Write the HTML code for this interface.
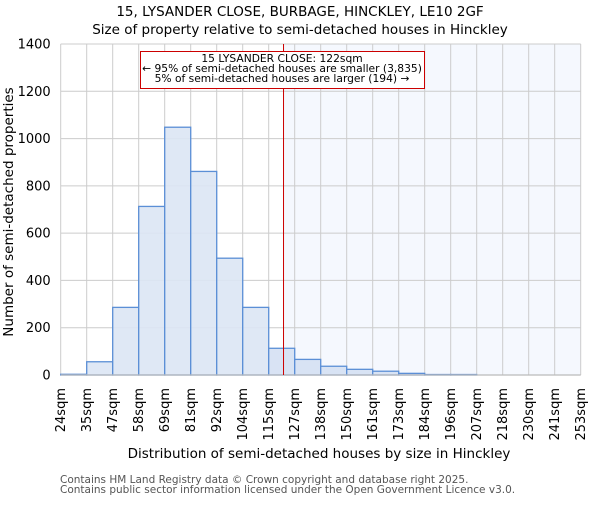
<!DOCTYPE html>
<html><head><meta charset="utf-8"><style>
body{margin:0;background:#fff}
svg text{font-family:"DejaVu Sans","Liberation Sans",sans-serif}
</style></head><body>
<svg id="c" width="600" height="500" xmlns="http://www.w3.org/2000/svg">
<text x="300" y="16" text-anchor="middle" font-size="13.5">15, LYSANDER CLOSE, BURBAGE, HINCKLEY, LE10 2GF</text>
<text x="300" y="34" text-anchor="middle" font-size="13.5">Size of property relative to semi-detached houses in Hinckley</text>
<g id="plot"></g>
<text x="319" y="458" text-anchor="middle" font-size="13.5">Distribution of semi-detached houses by size in Hinckley</text>
<text transform="translate(13,212) rotate(-90)" text-anchor="middle" font-size="13.5">Number of semi-detached properties</text>
<text x="60" y="483" font-size="10.5" fill="#555">Contains HM Land Registry data © Crown copyright and database right 2025.</text>
<text x="60" y="493" font-size="10.5" fill="#555">Contains public sector information licensed under the Open Government Licence v3.0.</text>
</svg>
<script>
const binLabels=["24sqm","35sqm","47sqm","58sqm","69sqm","81sqm","92sqm","104sqm","115sqm","127sqm","138sqm","150sqm","161sqm","173sqm","184sqm","196sqm","207sqm","218sqm","230sqm","241sqm","253sqm"];
const counts=[3,56,286,713,1048,861,494,286,113,66,37,24,16,7,2,2,0,0,0,0];
const yTicks=[0,200,400,600,800,1000,1200,1400];
const markerIndex=8.57;
const NS="http://www.w3.org/2000/svg";
const L=60.7,R=580.7,T=44,B=375,yMax=1400;
const xs=i=>L+(R-L)*i/counts.length;
const ys=v=>B-(B-T)*v/yMax;
const g=document.getElementById('plot');
function mk(t,a){const e=document.createElementNS(NS,t);for(const k in a)e.setAttribute(k,a[k]);g.appendChild(e);return e;}
let e;
e=mk('rect',{x:xs(markerIndex),y:T,width:R-xs(markerIndex),height:B-T,fill:'#f5f8fe'});


for(let i=0;i<binLabels.length;i++){
 e=mk('line',{x1:xs(i),x2:xs(i),y1:T,y2:B,stroke:'#ccc','stroke-width':1});
 
 
 e=mk('text',{transform:`translate(${xs(i)+4.5},${388}) rotate(-90)`,'text-anchor':'end','font-size':13});
 e.textContent=binLabels[i];
 
 
}
yTicks.forEach(v=>{
 e=mk('line',{x1:L,x2:R,y1:ys(v),y2:ys(v),stroke:'#ccc','stroke-width':1});
 
 
 e=mk('text',{x:L-10,y:ys(v)+4.5,'text-anchor':'end','font-size':13});
 e.textContent=v;
 
 
});
counts.forEach((c,i)=>{
 if(c<=0)return;
 e=mk('rect',{x:xs(i),y:ys(c),width:xs(i+1)-xs(i),height:B-ys(c),fill:i+1>markerIndex?'#d5e0f3':'#dce6f4',stroke:'#5b8fd6','stroke-width':1.3,'fill-opacity':0.9});
 
 
});
e=mk('line',{x1:L,x2:R,y1:B,y2:B,stroke:'#bbb','stroke-width':1.2});


e=mk('line',{x1:xs(markerIndex),x2:xs(markerIndex),y1:T,y2:B,stroke:'#c00','stroke-width':1});


e=mk('rect',{x:140.5,y:51.5,width:284,height:37,fill:'#fff',stroke:'#c00','stroke-width':1});


const ann=["15 LYSANDER CLOSE: 122sqm","← 95% of semi-detached houses are smaller (3,835)","5% of semi-detached houses are larger (194) →"];
ann.forEach((t,i)=>{
 e=mk('text',{x:282,y:62+i*10,'text-anchor':'middle','font-size':10.7});
 e.textContent=t;
 
 
});
</script>
</body></html>
